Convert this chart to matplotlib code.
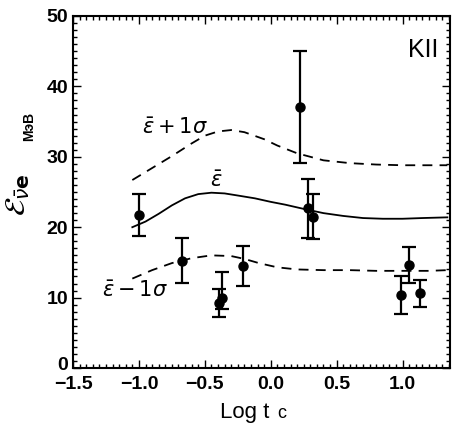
import matplotlib
matplotlib.use("Agg")
import matplotlib.pyplot as plt
import matplotlib.transforms as mtransforms
from matplotlib.ticker import MultipleLocator
import numpy as np

plt.rcParams['font.family'] = ['Liberation Sans', 'DejaVu Sans']
plt.rcParams['mathtext.fontset'] = 'dejavusans'

# data points (log t, energy, +err, -err)
x_pts = [-1.00, -0.67, -0.37, -0.39, -0.21, 0.22, 0.28, 0.32, 0.99, 1.05, 1.13]
y_pts = [21.7, 15.2, 10.0, 9.2, 14.5, 37.1, 22.7, 21.5, 10.4, 14.6, 10.6]
err_up = [3.0, 3.3, 3.6, 2.0, 2.8, 7.9, 4.1, 3.2, 2.7, 2.6, 1.9]
err_dn = [2.9, 3.1, 1.6, 2.0, 2.9, 8.0, 4.2, 3.2, 2.7, 2.5, 1.9]

# mean curve
x_mean = [-1.05, -0.95, -0.85, -0.75, -0.65, -0.55, -0.45, -0.35, -0.25, -0.12,
          0.0, 0.11, 0.25, 0.40, 0.55, 0.70, 0.85, 1.00, 1.15, 1.34]
y_mean = [20.0, 20.8, 21.9, 23.1, 24.1, 24.7, 24.9, 24.8, 24.5, 24.1,
          23.6, 23.2, 22.6, 22.0, 21.6, 21.3, 21.2, 21.2, 21.3, 21.4]

# +1 sigma curve
x_up = [-1.05, -0.90, -0.75, -0.60, -0.50, -0.40, -0.30, -0.20, -0.05, 0.05,
        0.20, 0.40, 0.60, 0.80, 1.00, 1.20, 1.34]
y_up = [26.7, 28.4, 30.1, 31.9, 33.0, 33.6, 33.8, 33.5, 32.5, 31.6,
        30.5, 29.5, 29.1, 28.9, 28.8, 28.8, 28.8]

# -1 sigma curve
x_dn = [-1.05, -0.90, -0.75, -0.60, -0.45, -0.30, -0.20, -0.09, 0.05, 0.20,
        0.40, 0.60, 0.80, 1.00, 1.20, 1.34]
y_dn = [12.7, 13.9, 14.9, 15.6, 16.0, 15.9, 15.5, 14.9, 14.3, 14.0,
        13.9, 13.9, 13.8, 13.8, 13.8, 13.9]

x_ticks = [-1.5, -1.0, -0.5, 0.0, 0.5, 1.0]
x_ticklabels = ['\u22121.5', '\u22121.0', '\u22120.5', '0.0', '0.5', '1.0']
y_ticks = [0, 10, 20, 30, 40, 50]

fig = plt.figure(figsize=(4.59, 4.28), dpi=100)
ax = fig.add_axes([73/459, 60/428, 377/459, 352/428])

ax.plot(x_mean, y_mean, color='black', lw=1.3)
ax.plot(x_up, y_up, color='black', lw=1.3, linestyle=(0, (5.5, 4)))
ax.plot(x_dn, y_dn, color='black', lw=1.3, linestyle=(0, (5.5, 4)))

ax.errorbar(x_pts, y_pts, yerr=[err_dn, err_up], fmt='o', color='black',
            ms=6.5, elinewidth=1.6, capsize=5, capthick=1.6)

ax.set_xlim(-1.5, 1.36)
ax.set_ylim(0, 50)
ax.xaxis.set_minor_locator(MultipleLocator(0.05))
ax.yaxis.set_minor_locator(MultipleLocator(1))
ax.tick_params(which='both', direction='in', top=True, right=True, labelsize=14, width=1.0)
ax.tick_params(which='major', length=6)
ax.tick_params(which='minor', length=3)
ax.tick_params(axis='x', which='major', pad=6)
ax.set_xticks(x_ticks)
ax.set_xticklabels(x_ticklabels)
ax.set_yticks(y_ticks)
ax.set_yticklabels([str(v) for v in y_ticks])
for lab in ax.get_xticklabels() + ax.get_yticklabels():
    lab.set_fontweight('bold')
for s in ax.spines.values():
    s.set_linewidth(1.5)

# nudge the "0" label up a little, as in the reference
lab0 = ax.yaxis.get_major_ticks()[0].label1
lab0.set_transform(lab0.get_transform() +
                   mtransforms.ScaledTranslation(0, 5/100, fig.dpi_scale_trans))

ax.text(-0.98, 34.1, r'$\bar{\varepsilon}+1\sigma$', fontsize=15, ha='left', va='center')
ax.text(-0.41, 26.6, r'$\bar{\varepsilon}$', fontsize=15, ha='center', va='center')
ax.text(-1.28, 11.0, r'$\bar{\varepsilon}-1\sigma$', fontsize=15, ha='left', va='center')
ax.text(1.27, 45.2, 'KII', fontsize=18, ha='right', va='center')

fig.text(220/459, 1 - 418/428, 'Log t', fontsize=16, ha='left', va='baseline')
fig.text(277/459, 1 - 418/428, 'c', fontsize=13, ha='left', va='baseline')
fig.text(18/459, 1 - 195/428, r'$\mathcal{E}_{\bar{\nu}\mathbf{e}}$', fontsize=21,
         rotation=90, ha='center', va='center')
fig.text(29/459, 1 - 126/428, 'МэВ', fontsize=10, fontweight='bold',
         rotation=90, ha='center', va='center')

fig.savefig('out.png', dpi=100)
